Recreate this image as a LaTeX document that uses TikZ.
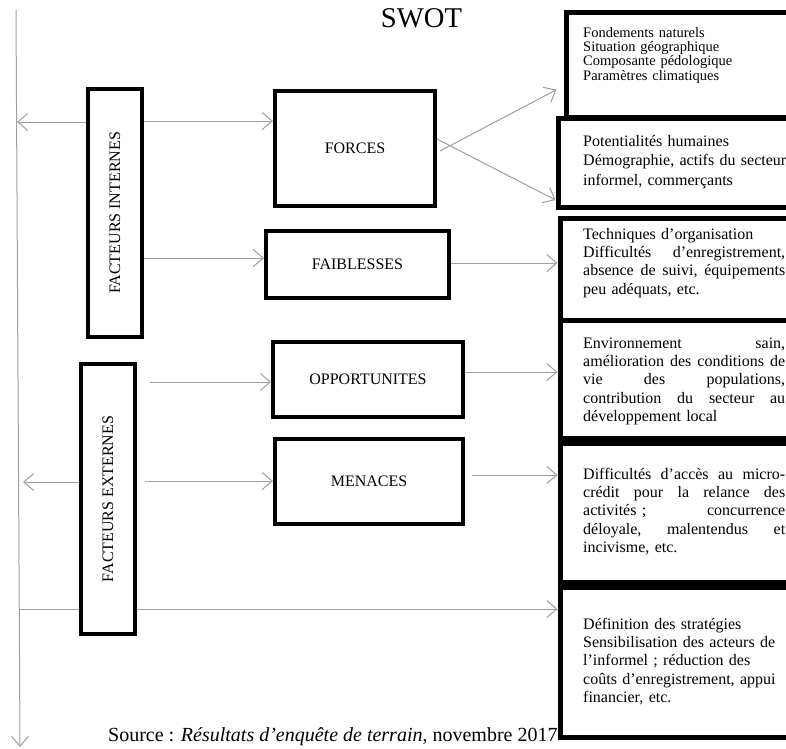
\documentclass[tikz,border=0pt]{standalone}
\usepackage{fontspec}
\setmainfont{Liberation Serif}
\usetikzlibrary{arrows.meta}
\newcommand\jl[1]{\leavevmode\hbox to 202pt{#1}}
\newcommand\jsp{\hskip 0.25em plus 1fill\relax}
\begin{document}
\begin{tikzpicture}[x=1pt,y=-1pt,
  box/.style={draw=black,line width=4pt,fill=white,inner sep=0pt,anchor=north west,font=\fontsize{16}{19}\selectfont},
  vbox/.style={draw=black,line width=4pt,fill=white,inner sep=0pt,rotate=90,font=\fontsize{16}{19}\selectfont},
  rbox/.style={draw=black,line width=5pt,inner sep=0pt,anchor=north west,minimum width=240pt},
  conn/.style={draw=black!38,line width=1pt,-{Straight Barb[length=10pt,width=17pt,line width=1pt]}},
  plainln/.style={draw=black!38,line width=1pt},
  rtxt/.style={font=\fontsize{16}{18.4}\selectfont,text width=235pt,align=left,inner sep=0pt,anchor=base west},
]
\useasboundingbox (0,0) rectangle (786,748);

% title
\node[anchor=base,font=\fontsize{28.6}{34}\selectfont,inner sep=0pt] (title) at (421.5,27) {SWOT};

% left factor boxes (rotated: north = left side, south = right side)
\node[vbox,minimum width=248pt,minimum height=54pt] (fi) at (115,213) {FACTEURS INTERNES};
\node[vbox,minimum width=270pt,minimum height=54pt] (fe) at (108,499) {FACTEURS EXTERNES};

% middle boxes
\node[box,minimum width=160pt,minimum height=115pt] (forces) at (273,89) {FORCES};
\node[box,minimum width=183pt,minimum height=67pt] (faib) at (264,229) {FAIBLESSES};
\node[box,minimum width=190pt,minimum height=75pt] (opp) at (271,340) {OPPORTUNITES};
\node[box,minimum width=188pt,minimum height=85pt] (men) at (273,437) {MENACES};

% right boxes
\node[rbox,minimum height=105pt] (b1) at (563.5,9.5) {};
\node[rbox,minimum height=89pt] (b2) at (555.5,115.5) {};
\node[rbox,minimum height=102.5pt] (b3) at (557.5,215.5) {};
\node[rbox,minimum height=117.5pt] (b4) at (557.5,318) {};
\node[rbox,minimum height=139pt] (b5) at (557.5,440.5) {};
\node[rbox,minimum height=150pt] (b6) at (557.5,584.5) {};

% right box texts
\node[rtxt,font=\fontsize{14.5}{14.4}\selectfont] (t1) at (583,37)
  {Fondements naturels\\Situation géographique\\Composante pédologique\\Paramètres climatiques};
\node[rtxt,font=\fontsize{16}{19.5}\selectfont] (t2) at (583,146)
  {Potentialités humaines\\Démographie, actifs du secteur\\informel, commerçants};
\node[rtxt] (t3) at (583,239)
  {Techniques d’organisation\\
   \jl{Difficultés\jsp d’enregistrement,}\\
   \jl{absence\jsp de\jsp suivi,\jsp équipements}\\
   peu adéquats, etc.};
\node[rtxt] (t4) at (583,348)
  {\jl{Environnement\jsp sain,}\\
   \jl{amélioration\jsp des\jsp conditions\jsp de}\\
   \jl{vie\jsp des\jsp populations,}\\
   \jl{contribution\jsp du\jsp secteur\jsp au}\\
   développement local};
\node[rtxt] (t5) at (583,479)
  {\jl{Difficultés\jsp d’accès\jsp au\jsp micro-}\\
   \jl{crédit\jsp pour\jsp la\jsp relance\jsp des}\\
   \jl{activités ;\jsp concurrence}\\
   \jl{déloyale,\jsp malentendus\jsp et}\\
   incivisme, etc.};
\node[rtxt] (t6) at (583,629)
  {Définition des stratégies\\Sensibilisation des acteurs de\\l’informel ; réduction des\\coûts d’enregistrement, appui\\financier, etc.};

% caption
\node[anchor=base west,inner sep=0pt,font=\fontsize{20}{24}\selectfont] (src) at (108,741)
  {Source : \textit{Résultats d’enquête de terrain}, novembre 2017};

% vertical axis
\coordinate (vtop) at (16,10);
\coordinate (vbot) at (20,747);
\draw[conn] (vtop) -- (vbot);

% left arrows
\coordinate (l1) at (17,122);
\draw[conn] (fi.north |- l1) -- (l1);
\coordinate (l2) at (23,482);
\draw[conn] (fe.north |- l2) -- (l2);

% factor -> SWOT items
\draw[conn] (fi.south |- 0,121) -- (forces.west |- 0,121);
\draw[conn] (fi.south |- 0,258) -- (faib.west |- 0,258);
\draw[conn,shorten <=13pt] (fe.south |- 0,382) -- (opp.west |- 0,382);
\draw[conn,shorten <=8pt] (fe.south |- 0,481) -- (men.west |- 0,481);

% bottom line
\coordinate (l3) at (19,609);
\draw[plainln] (l3) -- (fe.north |- l3);
\draw[conn] (fe.south |- l3) -- (b6.west |- l3);

% SWOT items -> details
\draw[conn,shorten >=8pt] ([shift={(3,2.5)}]forces.east) -- (b1.west |- 0,86);
\draw[conn] ([shift={(0,-9.5)}]forces.east) -- (b2.west |- 0,200);
\draw[conn] (faib.east |- 0,263) -- (b3.west |- 0,263);
\draw[conn] (opp.east |- 0,372) -- (b4.west |- 0,372);
\draw[conn,shorten <=7pt] (men.east |- 0,475) -- (b5.west |- 0,475);
\end{tikzpicture}
\end{document}
